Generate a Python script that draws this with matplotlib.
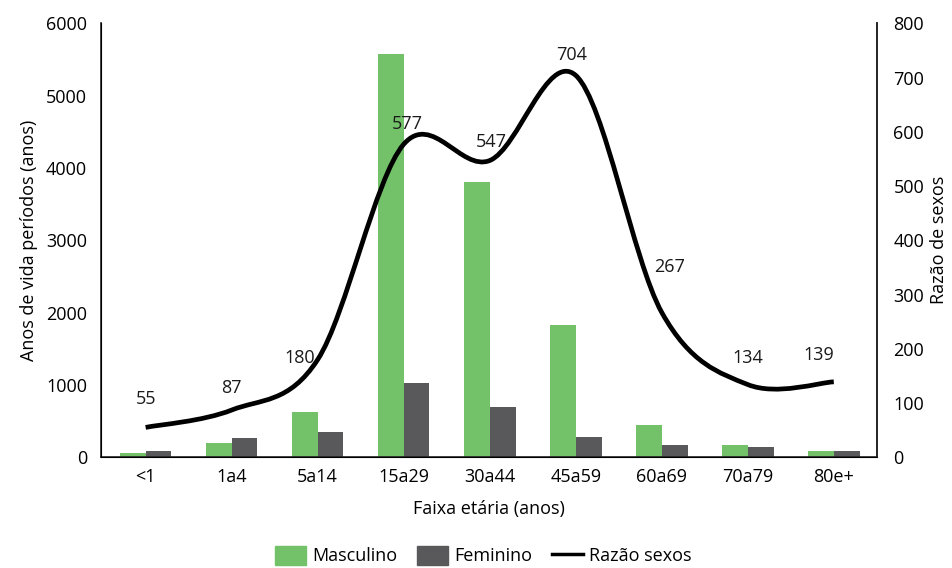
import numpy as np
import matplotlib.pyplot as plt
from matplotlib.path import Path
from matplotlib.patches import PathPatch, Patch
from matplotlib.lines import Line2D

plt.rcParams['font.family'] = ['Open Sans', 'DejaVu Sans']

# age groups, life-years per sex and sex ratio
faixas = ['<1', '1a4', '5a14', '15a29', '30a44', '45a59', '60a69', '70a79', '80e+']
masculino = [60, 190, 620, 5570, 3800, 1830, 450, 170, 90]
feminino = [80, 260, 350, 1030, 700, 280, 170, 140, 90]
razao = [55, 87, 180, 577, 547, 704, 267, 134, 139]

# label nudges (pixels) so the numbers sit clear of the curve
lbl_dx = [0, 0, -18, 4, 2, -4, 8, 0, -15]
lbl_dy = [28, 22, 2, 20, 19, 20, 45, 27, 27]

verde = '#73c26a'
cinza = '#59595b'
fs = 13

fig = plt.figure(figsize=(9.52, 5.68), dpi=100)
ax = fig.add_axes([0.106, 0.195, 0.815, 0.764])
x = np.arange(len(faixas))
w = 0.3
ax.bar(x - w / 2, masculino, w, color=verde, zorder=2)
ax.bar(x + w / 2, feminino, w, color=cinza, zorder=2)
ax.set_ylim(0, 6000)
ax.set_xlim(-0.52, 8.5)
ax.set_yticks(range(0, 6001, 1000))
ax.set_xticks(x)
ax.set_xticklabels(faixas)
ax.tick_params(length=0, labelsize=fs, pad=10)
ax.tick_params(axis='x', pad=8)
ax.spines['top'].set_visible(False)
for s in ['left', 'bottom', 'right']:
    ax.spines[s].set_color('#222222')
    ax.spines[s].set_linewidth(1.2)
ax.set_ylabel('Anos de vida períodos (anos)', fontsize=fs, labelpad=6)
ax.set_xlabel('Faixa etária (anos)', fontsize=fs, labelpad=10)

ax2 = ax.twinx()
ax2.set_ylim(0, 800)
ax2.set_yticks(range(0, 801, 100))
ax2.tick_params(length=0, labelsize=fs, pad=12)
ax2.spines['top'].set_visible(False)
ax2.spines['right'].set_color('#222222')
ax2.spines['right'].set_linewidth(1.2)
ax2.set_ylabel('Razão de sexos', fontsize=fs, labelpad=4)

# smoothed line: Catmull-Rom segments as cubic Bezier curves
pts = np.column_stack([x, razao]).astype(float)
ext = np.vstack([pts[0], pts, pts[-1]])
verts = [tuple(pts[0])]
codes = [Path.MOVETO]
for i in range(1, len(ext) - 2):
    p0, p1, p2, p3 = ext[i - 1], ext[i], ext[i + 1], ext[i + 2]
    c1 = p1 + (p2 - p0) / 6
    c2 = p2 - (p3 - p1) / 6
    verts += [tuple(c1), tuple(c2), tuple(p2)]
    codes += [Path.CURVE4] * 3
ax2.add_patch(PathPatch(Path(verts, codes), fill=False, lw=3.4, color='black',
                        capstyle='butt', zorder=3))

for i, v in enumerate(razao):
    ax2.annotate(str(v), (x[i], v), xytext=(lbl_dx[i], lbl_dy[i]),
                 textcoords='offset pixels', ha='center', va='center',
                 fontsize=fs, color='#1a1a1a')

handles = [Patch(color=verde, label='Masculino'),
           Patch(color=cinza, label='Feminino'),
           Line2D([0], [0], color='black', lw=2.5, label='Razão sexos')]
fig.legend(handles=handles, loc='center', bbox_to_anchor=(0.508, 0.022), ncol=3,
           frameon=False, fontsize=fs, handlelength=1.7, handleheight=1.3,
           columnspacing=1.1, handletextpad=0.35)

fig.savefig('out.png', dpi=100)
